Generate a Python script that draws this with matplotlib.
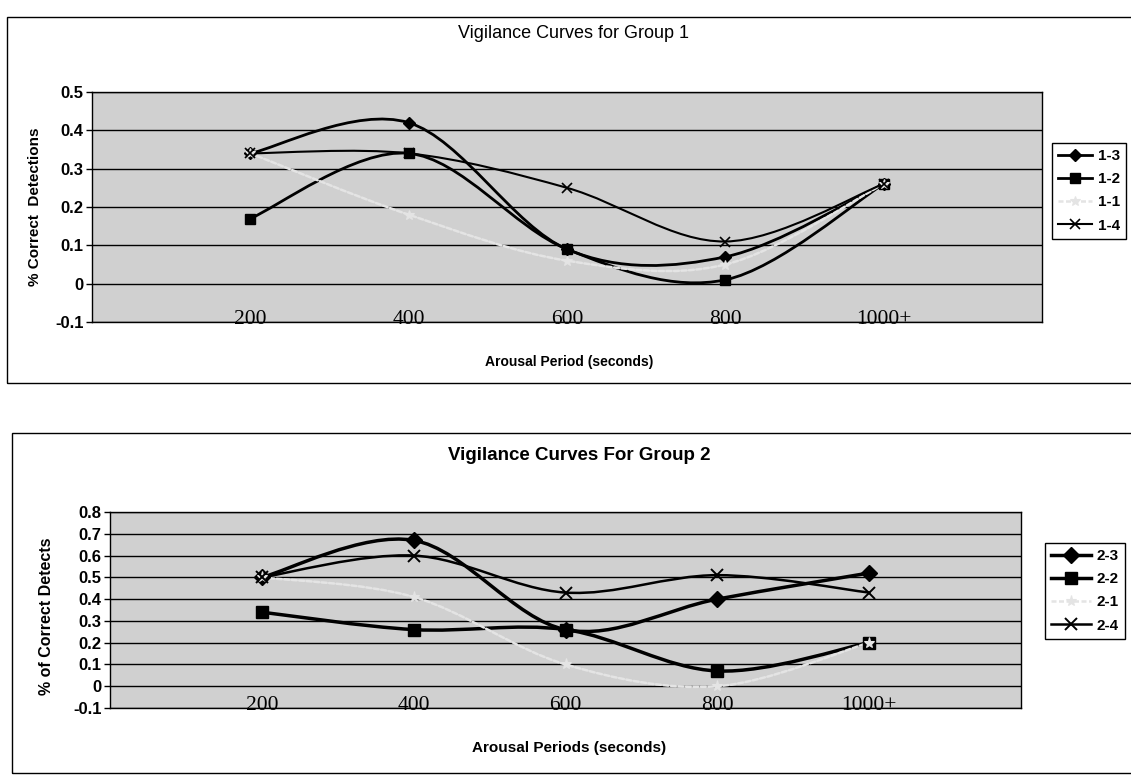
import numpy as np
import matplotlib
matplotlib.use('Agg')
import matplotlib.pyplot as plt
from matplotlib.path import Path
from matplotlib.patches import PathPatch, Rectangle
from matplotlib.lines import Line2D

# ---------------- data ----------------
periods = [200, 400, 600, 800, 1000]
period_labels = ['200', '400', '600', '800', '1000+']

g1_names = ['1-3', '1-2', '1-1', '1-4']
g1_13 = [0.34, 0.42, 0.09, 0.07, 0.26]
g1_12 = [0.17, 0.34, 0.09, 0.01, 0.26]
g1_11 = [0.34, 0.18, 0.06, 0.05, 0.26]
g1_14 = [0.34, 0.34, 0.25, 0.11, 0.26]

g2_names = ['2-3', '2-2', '2-1', '2-4']
g2_23 = [0.50, 0.67, 0.26, 0.40, 0.52]
g2_22 = [0.34, 0.26, 0.26, 0.07, 0.20]
g2_21 = [0.50, 0.41, 0.10, 0.00, 0.20]
g2_24 = [0.50, 0.60, 0.43, 0.51, 0.43]

W, H = 1131, 776
fig = plt.figure(figsize=(W / 100, H / 100), dpi=100)
fig.patch.set_facecolor('white')

SANS = 'Liberation Sans'
SERIF = 'Liberation Serif'
BG = '#d0d0d0'
LIGHT = '#e4e4e4'


def smooth_path(xs, ys):
    pts = np.column_stack([xs, ys]).astype(float)
    n = len(pts)
    verts = [pts[0]]
    codes = [Path.MOVETO]
    for i in range(n - 1):
        p0 = pts[i - 1] if i > 0 else pts[i]
        p1 = pts[i]
        p2 = pts[i + 1]
        p3 = pts[i + 2] if i + 2 < n else pts[i + 1]
        c1 = p1 + (p2 - p0) / 6.0
        c2 = p2 - (p3 - p1) / 6.0
        verts += [c1, c2, p2]
        codes += [Path.CURVE4] * 3
    return Path(verts, codes)


def fig_rect(px_left, px_top, px_right, px_bottom):
    return [px_left / W, 1 - px_bottom / H, (px_right - px_left) / W, (px_bottom - px_top) / H]


def setup_axes(ax, ymin, ymax, ytick_fs, xtick_fs):
    ax.set_facecolor(BG)
    ax.set_xlim(0, 1200)
    ax.set_ylim(ymin, ymax)
    yt = np.round(np.arange(ymin, ymax + 1e-9, 0.1), 1)
    ax.set_yticks(yt)
    ax.set_yticklabels(['0' if abs(v) < 1e-9 else ('%g' % v) for v in yt],
                       fontfamily=SANS, fontweight='bold', fontsize=ytick_fs)
    ax.set_xticks(periods)
    ax.set_xticklabels(period_labels, fontfamily=SERIF, fontsize=xtick_fs)
    ax.tick_params(axis='x', length=0, pad=-8.5)
    ax.tick_params(axis='y', length=4, width=1, direction='out', pad=2)
    ax.yaxis.grid(True, color='black', lw=1.0)
    ax.set_axisbelow(True)
    for s in ax.spines.values():
        s.set_color('black')
        s.set_linewidth(1.0)


def draw_series(ax, ys, color, lw, marker, ms, ls='-', mfc=None, mew=1.0, z=3):
    path = smooth_path(periods, ys)
    patch = PathPatch(path, facecolor='none', edgecolor=color, lw=lw,
                      linestyle=ls, zorder=z, capstyle='round', joinstyle='round')
    ax.add_patch(patch)
    ax.plot(periods, ys, linestyle='none', marker=marker, markersize=ms,
            color=color, markerfacecolor=mfc if mfc else color,
            markeredgecolor=color, markeredgewidth=mew, zorder=z + 1)
    return Line2D([], [], color=color, lw=lw, linestyle=ls, marker=marker,
                  markersize=ms, markerfacecolor=mfc if mfc else color,
                  markeredgecolor=color, markeredgewidth=mew)


# ---------------- frames ----------------
fig.add_artist(Rectangle((7 / W, 1 - 383 / H), 1.2, (383 - 17) / H,
                         transform=fig.transFigure, fill=False, ec='black', lw=1.0))
fig.add_artist(Rectangle((12 / W, 1 - 773 / H), 1.2, (773 - 433) / H,
                         transform=fig.transFigure, fill=False, ec='black', lw=1.0))

# ---------------- Group 1 ----------------
ax1 = fig.add_axes(fig_rect(92, 92, 1042, 322))
setup_axes(ax1, -0.1, 0.5, 12, 15.5)
h1 = []
h1.append(draw_series(ax1, g1_13, 'black', 2.0, 'D', 6.5))
h1.append(draw_series(ax1, g1_12, 'black', 2.0, 's', 6.5))
h1.append(draw_series(ax1, g1_11, LIGHT, 1.8, '*', 7, ls=(0, (2, 1)), mew=0.8))
h1.append(draw_series(ax1, g1_14, 'black', 1.5, 'x', 7, mew=1.2))
fig.text(573 / W, 1 - 33 / H, 'Vigilance Curves for Group 1', ha='center', va='center',
         fontfamily=SANS, fontsize=13)
fig.text(569 / W, 1 - 362 / H, 'Arousal Period (seconds)', ha='center', va='center',
         fontfamily=SANS, fontweight='bold', fontsize=10)
fig.text(35 / W, 1 - 207 / H, '% Correct  Detections', ha='center', va='center',
         rotation=90, fontfamily=SANS, fontweight='bold', fontsize=11)
leg1 = fig.legend(h1, g1_names, loc='upper left', bbox_to_anchor=(1052 / W, 1 - 143 / H),
                  bbox_transform=fig.transFigure, frameon=True, fancybox=False,
                  edgecolor='black', framealpha=1, facecolor='white',
                  prop={'family': SANS, 'weight': 'bold', 'size': 11},
                  handlelength=2.2, labelspacing=0.6, borderpad=0.4, handletextpad=0.4,
                  borderaxespad=0)
leg1.get_frame().set_linewidth(1.0)

# ---------------- Group 2 ----------------
ax2 = fig.add_axes(fig_rect(110, 512, 1021, 708))
setup_axes(ax2, -0.1, 0.8, 12, 15.5)
h2 = []
h2.append(draw_series(ax2, g2_23, 'black', 2.5, 'D', 8))
h2.append(draw_series(ax2, g2_22, 'black', 2.5, 's', 8))
h2.append(draw_series(ax2, g2_21, LIGHT, 1.8, '*', 8, ls=(0, (2, 1)), mew=0.8))
h2.append(draw_series(ax2, g2_24, 'black', 1.8, 'x', 8, mew=1.4))
fig.text(579 / W, 1 - 455 / H, 'Vigilance Curves For Group 2', ha='center', va='center',
         fontfamily=SANS, fontweight='bold', fontsize=13.5)
fig.text(569 / W, 1 - 748 / H, 'Arousal Periods (seconds)', ha='center', va='center',
         fontfamily=SANS, fontweight='bold', fontsize=11)
fig.text(47 / W, 1 - 616 / H, '% of Correct Detects', ha='center', va='center',
         rotation=90, fontfamily=SANS, fontweight='bold', fontsize=11.5)
leg2 = fig.legend(h2, g2_names, loc='upper left', bbox_to_anchor=(1045 / W, 1 - 543 / H),
                  bbox_transform=fig.transFigure, frameon=True, fancybox=False,
                  edgecolor='black', framealpha=1, facecolor='white',
                  prop={'family': SANS, 'weight': 'bold', 'size': 11},
                  handlelength=2.6, labelspacing=0.6, borderpad=0.4, handletextpad=0.4,
                  borderaxespad=0)
leg2.get_frame().set_linewidth(1.0)

fig.savefig('out.png', dpi=100, facecolor='white')
